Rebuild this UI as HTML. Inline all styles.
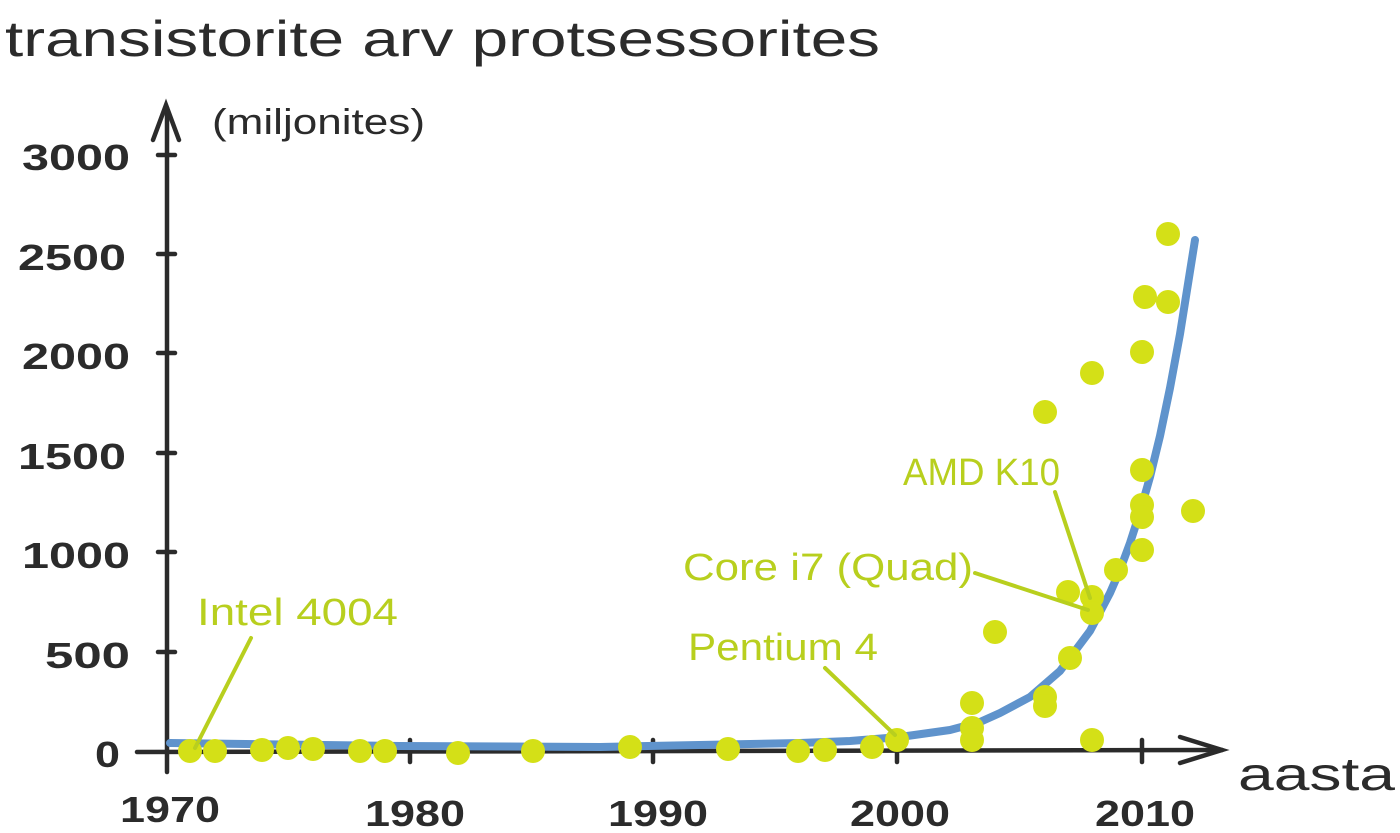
<!DOCTYPE html>
<html><head><meta charset="utf-8">
<style>
html,body{margin:0;padding:0;background:#fff;}
svg{display:block;}
text{font-family:"Liberation Sans",sans-serif;}
</style></head>
<body>
<svg width="1400" height="833" viewBox="0 0 1400 833" xmlns="http://www.w3.org/2000/svg">
<g fill="#2b2b2b">
<text x="5" y="56" font-size="50" textLength="875" lengthAdjust="spacingAndGlyphs">transistorite arv protsessorites</text>
<text x="212" y="134" font-size="36" textLength="213" lengthAdjust="spacingAndGlyphs">(miljonites)</text>
<text x="1238" y="790" font-size="46" textLength="157" lengthAdjust="spacingAndGlyphs">aasta</text>
<g font-size="36" font-weight="bold">
<text x="22" y="170" textLength="108" lengthAdjust="spacingAndGlyphs">3000</text>
<text x="18" y="270" textLength="108" lengthAdjust="spacingAndGlyphs">2500</text>
<text x="22" y="369" textLength="108" lengthAdjust="spacingAndGlyphs">2000</text>
<text x="18" y="469" textLength="108" lengthAdjust="spacingAndGlyphs">1500</text>
<text x="22" y="568" textLength="108" lengthAdjust="spacingAndGlyphs">1000</text>
<text x="45" y="668" textLength="85" lengthAdjust="spacingAndGlyphs">500</text>
<text x="95" y="767" textLength="25" lengthAdjust="spacingAndGlyphs">0</text>
</g>
<g font-size="36" font-weight="bold">
<text x="120" y="822" textLength="100" lengthAdjust="spacingAndGlyphs">1970</text>
<text x="365" y="826" textLength="100" lengthAdjust="spacingAndGlyphs">1980</text>
<text x="608" y="826" textLength="100" lengthAdjust="spacingAndGlyphs">1990</text>
<text x="850" y="826" textLength="100" lengthAdjust="spacingAndGlyphs">2000</text>
<text x="1095" y="826" textLength="100" lengthAdjust="spacingAndGlyphs">2010</text>
</g>
</g>
<g stroke="#2b2b2b" stroke-width="4.5" fill="none" stroke-linecap="round">
<line x1="167" y1="108" x2="167" y2="772"/>
<polyline points="153,140 166,105 179,140"/>
<line x1="137" y1="752" x2="1222" y2="750"/>
<polyline points="1180,737 1222,750 1180,763"/>
<line x1="158" y1="155" x2="175" y2="155"/>
<line x1="158" y1="254" x2="175" y2="254"/>
<line x1="158" y1="353" x2="175" y2="353"/>
<line x1="158" y1="453" x2="175" y2="453"/>
<line x1="158" y1="552" x2="175" y2="552"/>
<line x1="158" y1="652" x2="175" y2="652"/>
<line x1="410" y1="740" x2="410" y2="762"/>
<line x1="653" y1="740" x2="653" y2="762"/>
<line x1="897" y1="740" x2="897" y2="762"/>
<line x1="1142" y1="740" x2="1142" y2="762"/>
</g>
<polyline fill="none" stroke="#5f93cc" stroke-width="8" stroke-linecap="round" stroke-linejoin="round"
points="170,743 400,746 600,747 800,743 850,741 900,737 950,730 980,722 1000,713 1030,697 1060,671 1090,631 1110,593 1120,570 1130,543 1140,512 1150,477 1160,436 1170,388 1180,334 1195,240"/>
<g fill="#d4e017">
<circle cx="190" cy="751" r="12"/><circle cx="215" cy="751" r="12"/><circle cx="262" cy="750" r="12"/>
<circle cx="288" cy="748" r="12"/><circle cx="313" cy="749" r="12"/><circle cx="360" cy="751" r="12"/>
<circle cx="385" cy="751" r="12"/><circle cx="458" cy="753" r="12"/><circle cx="533" cy="751" r="12"/>
<circle cx="630" cy="747" r="12"/><circle cx="728" cy="749" r="12"/><circle cx="798" cy="751" r="12"/>
<circle cx="825" cy="750" r="12"/><circle cx="872" cy="747" r="12"/><circle cx="897" cy="740" r="12"/>
<circle cx="972" cy="703" r="12"/><circle cx="972" cy="728" r="12"/><circle cx="972" cy="740" r="12"/>
<circle cx="995" cy="632" r="12"/><circle cx="1045" cy="412" r="12"/><circle cx="1045" cy="697" r="12"/>
<circle cx="1045" cy="706" r="12"/><circle cx="1070" cy="658" r="12"/><circle cx="1092" cy="373" r="12"/>
<circle cx="1068" cy="592" r="12"/><circle cx="1092" cy="597" r="12"/><circle cx="1092" cy="613" r="12"/>
<circle cx="1092" cy="740" r="12"/><circle cx="1116" cy="570" r="12"/><circle cx="1142" cy="352" r="12"/>
<circle cx="1142" cy="470" r="12"/><circle cx="1142" cy="505" r="12"/><circle cx="1142" cy="517" r="12"/>
<circle cx="1142" cy="550" r="12"/><circle cx="1145" cy="297" r="12"/><circle cx="1168" cy="302" r="12"/>
<circle cx="1168" cy="234" r="12"/><circle cx="1193" cy="511" r="12"/>
</g>
<g stroke="#b8cf1e" stroke-width="4" stroke-linecap="round" fill="none">
<line x1="251" y1="638" x2="195" y2="748"/>
<line x1="825" y1="668" x2="895" y2="735"/>
<line x1="975" y1="573" x2="1088" y2="610"/>
<line x1="1055" y1="492" x2="1090" y2="598"/>
</g>
<g fill="#b8cf1e" font-size="38">
<text x="197" y="625" textLength="201" lengthAdjust="spacingAndGlyphs">Intel 4004</text>
<text x="688" y="660" textLength="190" lengthAdjust="spacingAndGlyphs">Pentium 4</text>
<text x="683" y="580" textLength="290" lengthAdjust="spacingAndGlyphs">Core i7 (Quad)</text>
<text x="903" y="485" textLength="157" lengthAdjust="spacingAndGlyphs">AMD K10</text>
</g>
</svg>
</body></html>
